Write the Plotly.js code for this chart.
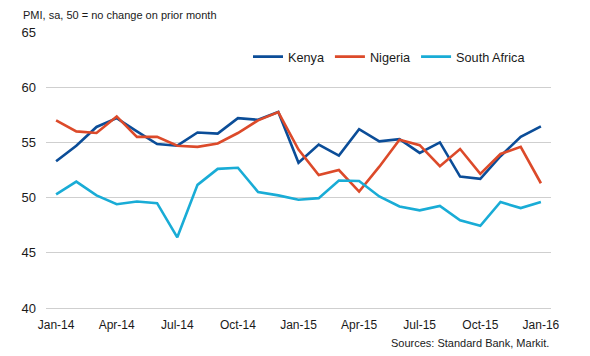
<!DOCTYPE html>
<html>
<head>
<meta charset="utf-8">
<script src="https://cdn.plot.ly/plotly-3.0.1.min.js"></script>
<style>html,body{margin:0;padding:0;background:#fff;}#chart{width:590px;height:356px;}</style>
</head>
<body>
<div id="chart"></div>
<script>
var months = ["Jan-14","Feb-14","Mar-14","Apr-14","May-14","Jun-14","Jul-14","Aug-14","Sep-14","Oct-14","Nov-14","Dec-14",
              "Jan-15","Feb-15","Mar-15","Apr-15","May-15","Jun-15","Jul-15","Aug-15","Sep-15","Oct-15","Nov-15","Dec-15","Jan-16"];
var kenya = [53.3,54.7,56.4,57.2,56.0,54.85,54.7,55.9,55.8,57.2,57.05,57.75,
             53.15,54.8,53.8,56.2,55.1,55.3,54.05,55.0,51.9,51.7,53.75,55.5,56.45];
var nigeria = [57.0,56.0,55.85,57.35,55.5,55.5,54.7,54.6,54.9,55.85,57.0,57.75,
               54.35,52.05,52.5,50.55,52.8,55.25,54.75,52.85,54.4,52.15,53.95,54.6,51.3];
var southAfrica = [50.3,51.45,50.2,49.4,49.65,49.5,46.4,51.15,52.6,52.7,50.5,50.2,
                   49.8,49.95,51.55,51.5,50.1,49.2,48.85,49.25,47.95,47.45,49.6,49.05,49.6];
var tickLabels = ["Jan-14","Apr-14","Jul-14","Oct-14","Jan-15","Apr-15","Jul-15","Oct-15","Jan-16"];

var font = "Liberation Sans, Arial, sans-serif";
function tr(name, y, color){
  return {x: months, y: y, name: name, type: 'scatter', mode: 'lines',
          line: {color: color, width: 2.6}, hoverinfo: 'skip'};
}
var data = [
  tr('Kenya', kenya, '#0b4d98'),
  tr('Nigeria', nigeria, '#dc4a2a'),
  tr('South Africa', southAfrica, '#19acd6')
];
var layout = {
  width: 590, height: 356,
  margin: {l: 46, r: 39, t: 32, b: 48},
  paper_bgcolor: '#fff', plot_bgcolor: '#fff',
  font: {family: font, color: '#1a1a1a'},
  showlegend: true,
  legend: {orientation: 'h', x: 0.4, y: 0.91, xanchor: 'left', yanchor: 'middle',
           font: {family: font, size: 12.7, color: '#1a1a1a'}, bgcolor: 'rgba(0,0,0,0)',
           itemwidth: 30, tracegroupgap: 0},
  xaxis: {type: 'category', categoryorder: 'array', categoryarray: months,
          range: [-0.5, 24.5], tickvals: tickLabels, ticktext: tickLabels,
          showgrid: false, zeroline: false, showline: true, linecolor: '#cfcfcf', linewidth: 1,
          ticks: '', ticklabelstandoff: 6,
          tickfont: {family: font, size: 12, color: '#1a1a1a'}, fixedrange: true},
  yaxis: {range: [40, 65], tickvals: [40,45,50,55,60,65], showgrid: true,
          gridcolor: '#cfcfcf', gridwidth: 1, zeroline: false, showline: false, ticks: '',
          tickfont: {family: font, size: 13, color: '#1a1a1a'}, ticklabelstandoff: 9, fixedrange: true},
  annotations: [
    {text: 'PMI, sa, 50 = no change on prior month', xref: 'paper', yref: 'paper',
     x: 0, y: 1, xshift: -25, yshift: 17, xanchor: 'left', yanchor: 'middle', showarrow: false,
     font: {family: font, size: 11, color: '#1a1a1a'}},
    {text: 'Sources: Standard Bank, Markit.', xref: 'paper', yref: 'paper',
     x: 1, y: 0, xshift: 0, yshift: -35, xanchor: 'right', yanchor: 'middle', showarrow: false,
     font: {family: font, size: 11, color: '#1a1a1a'}}
  ]
};
Plotly.newPlot('chart', data, layout, {displayModeBar: false, staticPlot: true});
</script>
</body>
</html>
